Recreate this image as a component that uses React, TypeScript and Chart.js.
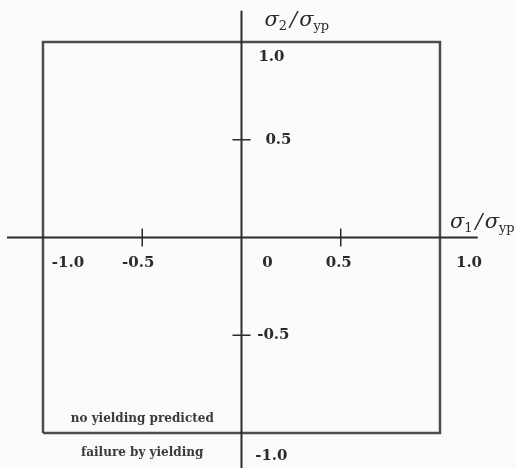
import { useEffect, useRef } from "react";
import { Chart, registerables } from "chart.js";

Chart.register(...registerables);

// Yield envelope in normalized principal-stress space (sigma1/syp, sigma2/syp)
const envelopeS1 = [-1, 1, 1, -1, -1];
const envelopeS2 = [-1, -1, 1, 1, -1];

// Axis tick values and their printed labels
const s1Ticks = [-1.0, -0.5, 0, 0.5, 1.0];
const s1TickLabels = ["-1.0", "-0.5", "0", "0.5", "1.0"];
const s2Ticks = [1.0, 0.5, -0.5, -1.0];
const s2TickLabels = ["1.0", "0.5", "-0.5", "-1.0"];
const tickMarkValues = [-0.5, 0.5];

const insideLabel = "no yielding predicted";
const outsideLabel = "failure by yielding";

const SERIF = '"DejaVu Serif", "Liberation Serif", serif';
const INK = "#2b2b2b";

// Horizontal offsets (px) of the sigma1 tick labels from their tick positions
const s1LabelDx = [25, -4, 26, -2, 29];
// Offsets (px) of the sigma2 tick labels: right edge from axis, vertical from tick
const s2LabelRight = [43, 50, 48, 46];
const s2LabelDy = [15, 0, 0, 23];

function drawRatio(
  ctx: CanvasRenderingContext2D,
  x: number,
  y: number,
  sub1: string,
  sub2: string
) {
  ctx.save();
  ctx.fillStyle = INK;
  ctx.textBaseline = "alphabetic";
  ctx.textAlign = "left";
  const big = `italic 21px ${SERIF}`;
  const small = `13px ${SERIF}`;
  let cx = x;
  ctx.font = big;
  ctx.fillText("σ", cx, y);
  cx += ctx.measureText("σ").width;
  ctx.font = small;
  ctx.fillText(sub1, cx, y + 4);
  cx += ctx.measureText(sub1).width + 3;
  ctx.font = big;
  ctx.fillText("/", cx, y);
  cx += ctx.measureText("/").width + 2;
  ctx.fillText("σ", cx, y);
  cx += ctx.measureText("σ").width;
  ctx.font = small;
  ctx.fillText(sub2, cx, y + 4);
  ctx.restore();
}

const axesPlugin = {
  id: "stressAxes",
  afterDatasetsDraw(chart: any) {
    const ctx: CanvasRenderingContext2D = chart.ctx;
    const xs = chart.scales.x;
    const ys = chart.scales.y;
    const x0 = xs.getPixelForValue(0);
    const y0 = ys.getPixelForValue(0);
    const bottom = ys.getPixelForValue(-1);

    ctx.save();
    ctx.strokeStyle = INK;
    ctx.lineWidth = 2;
    // principal stress axes
    ctx.beginPath();
    ctx.moveTo(7, y0);
    ctx.lineTo(xs.getPixelForValue(1.19), y0);
    ctx.moveTo(x0, ys.getPixelForValue(1.16));
    ctx.lineTo(x0, chart.height);
    ctx.stroke();

    // tick marks at +/-0.5
    ctx.lineWidth = 1.5;
    ctx.beginPath();
    for (const v of tickMarkValues) {
      const px = xs.getPixelForValue(v);
      ctx.moveTo(px, y0 - 9);
      ctx.lineTo(px, y0 + 9);
      const py = ys.getPixelForValue(v);
      ctx.moveTo(x0 - 9, py);
      ctx.lineTo(x0 + 9, py);
    }
    ctx.stroke();

    // tick labels
    ctx.fillStyle = INK;
    ctx.font = `bold 15px ${SERIF}`;
    ctx.textBaseline = "middle";
    ctx.textAlign = "center";
    s1Ticks.forEach((v, i) => {
      ctx.fillText(s1TickLabels[i], xs.getPixelForValue(v) + s1LabelDx[i], y0 + 26);
    });
    ctx.textAlign = "right";
    s2Ticks.forEach((v, i) => {
      ctx.fillText(s2TickLabels[i], x0 + s2LabelRight[i], ys.getPixelForValue(v) + s2LabelDy[i]);
    });

    // region captions
    const cx = xs.getPixelForValue(-0.5);
    ctx.textAlign = "center";
    ctx.font = `bold 12px ${SERIF}`;
    ctx.fillStyle = "#3a3a3a";
    ctx.fillText(insideLabel, cx, bottom - 14);
    ctx.fillText(outsideLabel, cx, bottom + 20);
    ctx.restore();

    // axis titles
    drawRatio(ctx, x0 + 23, ys.getPixelForValue(1) - 16, "2", "yp");
    drawRatio(ctx, xs.getPixelForValue(1) + 10, y0 - 9, "1", "yp");
  },
};

export default function App() {
  const ref = useRef<HTMLCanvasElement | null>(null);

  useEffect(() => {
    if (!ref.current) return;
    const chart = new Chart(ref.current, {
      type: "scatter",
      data: {
        datasets: [
          {
            label: "yield envelope",
            data: envelopeS1.map((s1, i) => ({ x: s1, y: envelopeS2[i] })),
            showLine: true,
            borderColor: "#4d4d4d",
            borderWidth: 2.5,
            pointRadius: 0,
            fill: false,
            tension: 0,
          },
        ],
      },
      options: {
        responsive: false,
        animation: false,
        layout: { padding: 0 },
        plugins: {
          legend: { display: false },
          tooltip: { enabled: false },
        },
        scales: {
          x: { type: "linear", display: false, min: -1.2166, max: 1.3829 },
          y: { type: "linear", display: false, min: -1.179, max: 1.2148 },
        },
      },
      plugins: [axesPlugin],
    });
    return () => chart.destroy();
  }, []);

  return (
    <div
      style={{
        position: "fixed",
        left: 0,
        top: 0,
        width: 516,
        height: 468,
        background: "#fbfbfb",
      }}
    >
      <canvas ref={ref} width={516} height={468} style={{ display: "block" }} />
    </div>
  );
}
